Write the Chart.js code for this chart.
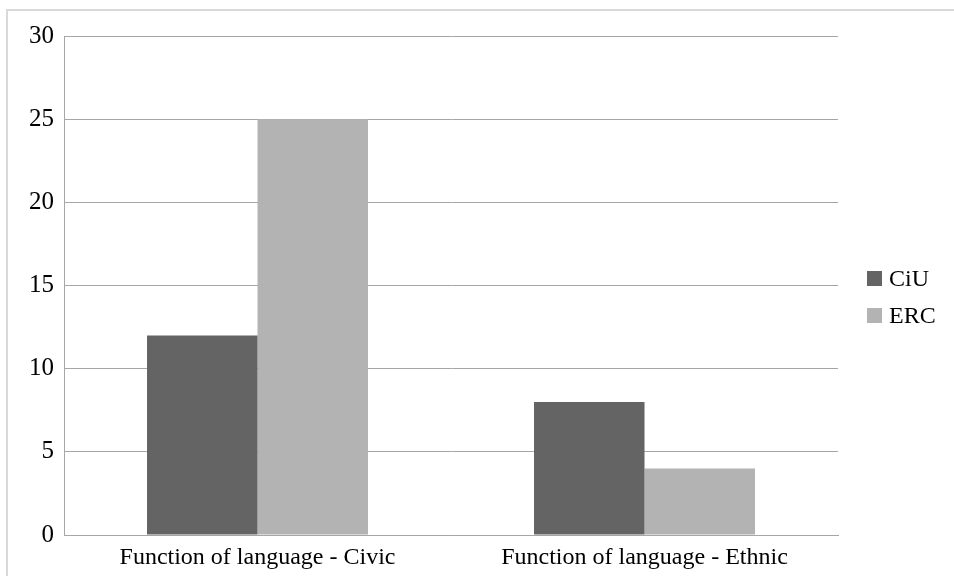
<!DOCTYPE html>
<html>
<head>
<meta charset="utf-8">
<script src="https://cdn.jsdelivr.net/npm/chart.js@4"></script>
<style>
  html, body { margin: 0; padding: 0; background: #fff; }
  #wrap { position: relative; width: 954px; height: 576px; overflow: hidden; }
  #frame {
    position: absolute; left: 6px; top: 9px; width: 1000px; height: 700px;
    border-left: 2px solid #d9d9d9; border-top: 2px solid #d9d9d9;
  }
  canvas { position: absolute; left: 0; top: 0; }
</style>
</head>
<body>
<div id="wrap">
  <div id="frame"></div>
  <canvas id="language-chart" width="954" height="576"></canvas>
</div>
<script>
const categories = ["Function of language - Civic", "Function of language - Ethnic"];
const seriesNames = ["CiU", "ERC"];
const ciuValues = [12, 8];
const ercValues = [25, 4];
const seriesColors = ["#646464", "#b3b3b3"];

const FONT = "Liberation Serif";
const languageChart = document.getElementById("language-chart");

// legend on the right, drawn by hand so the spacing stays tight
const sideLegend = {
  id: "sideLegend",
  afterDraw(chart) {
    const { ctx } = chart;
    ctx.save();
    ctx.font = "24px '" + FONT + "'";
    ctx.textBaseline = "alphabetic";
    ctx.textAlign = "left";
    chart.data.datasets.forEach((ds, i) => {
      const y = 271 + i * 37;
      ctx.fillStyle = ds.backgroundColor;
      ctx.fillRect(867, y, 15, 15);
      ctx.fillStyle = "#000";
      ctx.fillText(ds.label, 889, y + 15);
    });
    ctx.restore();
  },
};

new Chart(languageChart, {
  type: "bar",
  data: {
    labels: categories,
    datasets: [
      { label: seriesNames[0], data: ciuValues, backgroundColor: seriesColors[0] },
      { label: seriesNames[1], data: ercValues, backgroundColor: seriesColors[1] },
    ],
  },
  options: {
    responsive: false,
    animation: false,
    layout: { padding: { left: 0, right: 116, top: 36, bottom: 0 } },
    datasets: {
      bar: { categoryPercentage: 0.571, barPercentage: 1 },
    },
    plugins: {
      legend: { display: false },
      tooltip: { enabled: false },
    },
    scales: {
      x: {
        grid: { display: false, drawTicks: false },
        border: { display: true, color: "#a6a6a6", width: 1 },
        ticks: {
          color: "#000",
          padding: 8,
          maxRotation: 0,
          font: { family: FONT, size: 24 },
        },
        afterFit(scale) {
          scale.height = 41;
        },
      },
      y: {
        min: 0,
        max: 30,
        grid: { color: "#a6a6a6", lineWidth: 1, drawTicks: false },
        border: { display: true, color: "#a6a6a6", width: 1 },
        ticks: {
          stepSize: 5,
          color: "#000",
          padding: 10,
          font: { family: FONT, size: 25 },
        },
        afterFit(scale) {
          scale.width = 64;
        },
      },
    },
  },
  plugins: [sideLegend],
});
</script>
</body>
</html>
